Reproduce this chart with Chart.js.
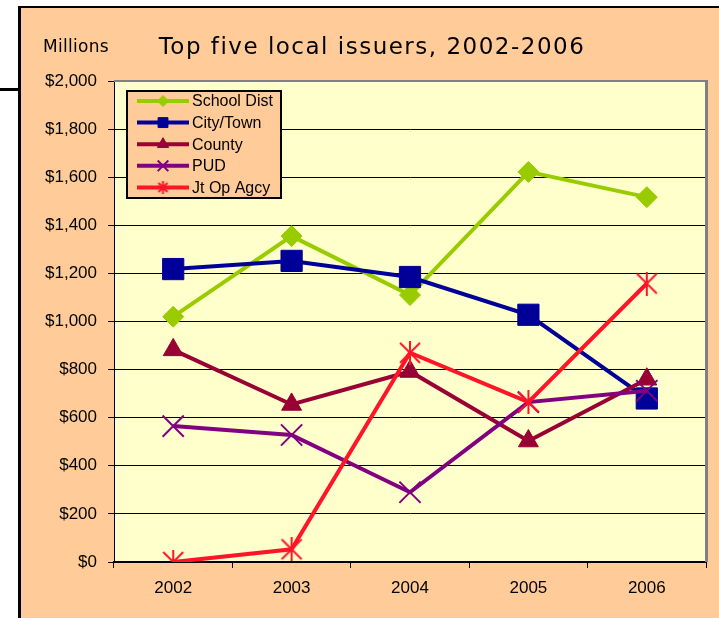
<!DOCTYPE html>
<html lang="en">
<head>
<meta charset="UTF-8">
<title>Top five local issuers, 2002-2006</title>
<script src="https://cdn.jsdelivr.net/npm/chart.js"></script>
<style>
  html, body { margin: 0; padding: 0; background: #fff; }
  #wrap { width: 719px; height: 618px; }
</style>
</head>
<body>
<div id="wrap"><canvas id="issuerChart" width="719" height="618"></canvas></div>
<script>
// Issuance in $ millions by year
var years = ['2002', '2003', '2004', '2005', '2006'];
var schoolDist = [1020, 1355, 1110, 1622, 1517];
var cityTown   = [1218, 1252, 1185, 1028, 680];
var county     = [882, 655, 792, 503, 760];
var pud        = [565, 528, 290, 665, 712];
var jtOpAgcy   = [0, 53, 870, 665, 1158];
var seriesNames = ['School Dist', 'City/Town', 'County', 'PUD', 'Jt Op Agcy'];
var yMin = 0, yMax = 2000, yStep = 200;

var PEACH = '#FFCC99';
var PLOT_BG = '#FFFFCC';

// asterisk marker: an X with a vertical stroke through it
function asterisk(size, color, lw) {
    var c = document.createElement('canvas');
    c.width = size; c.height = size;
    var g = c.getContext('2d');
    var h = size / 2, a = h - lw;
    g.strokeStyle = color;
    g.lineWidth = lw;
    g.beginPath();
    g.moveTo(h - a, h - a); g.lineTo(h + a, h + a);
    g.moveTo(h + a, h - a); g.lineTo(h - a, h + a);
    g.moveTo(h, 0); g.lineTo(h, size);
    g.stroke();
    return c;
}

function series(label, data, color, style, radius, bw, order) {
    return {
        label: label,
        data: data,
        borderColor: color,
        backgroundColor: color,
        borderWidth: 4,
        tension: 0,
        pointStyle: style,
        pointRadius: radius,
        pointBackgroundColor: color,
        pointBorderColor: color,
        pointBorderWidth: bw,
        order: order
    };
}

var datasets = [
    series(seriesNames[0], schoolDist, '#99CC00', 'rectRot', 10.5, 1, 4),
    series(seriesNames[1], cityTown, '#000099', 'rect', 15, 1, 3),
    series(seriesNames[2], county, '#990033', 'triangle', 11.5, 1, 2),
    series(seriesNames[3], pud, '#800080', 'crossRot', 15, 2, 1),
    series(seriesNames[4], jtOpAgcy, '#FF1428', asterisk(24, '#FF1428', 2), 12, 2, 0)
];
var legendMarks = [
    { style: 'rectRot', r: 5.5 },
    { style: 'rect', r: 7 },
    { style: 'triangle', r: 6.5 },
    { style: 'crossRot', r: 7.5 },
    { style: asterisk(13, '#FF1428', 2), r: 6 }
];

var frame = {
    id: 'frame',
    beforeDraw: function (chart) {
        var ctx = chart.ctx, a = chart.chartArea;
        ctx.save();
        ctx.fillStyle = '#fff';
        ctx.fillRect(0, 0, chart.width, chart.height);
        // stray rule left of the panel
        ctx.fillStyle = '#000';
        ctx.fillRect(0, 88, 20, 3);
        // panel
        ctx.fillStyle = '#000';
        ctx.fillRect(18, 6, chart.width - 18, chart.height - 6);
        ctx.fillStyle = PEACH;
        ctx.fillRect(21, 8, chart.width - 21, chart.height - 8);
        ctx.fillStyle = PLOT_BG;
        ctx.fillRect(a.left, a.top, a.right - a.left, a.bottom - a.top);
        ctx.restore();
    },
    afterDraw: function (chart) {
        var ctx = chart.ctx, a = chart.chartArea;
        ctx.save();
        // grey plot border on top and right
        ctx.strokeStyle = '#808080';
        ctx.lineWidth = 2;
        ctx.beginPath();
        ctx.moveTo(a.left, a.top);
        ctx.lineTo(a.right, a.top);
        ctx.stroke();
        ctx.lineWidth = 3;
        ctx.beginPath();
        ctx.moveTo(a.right + 0.5, a.top - 1);
        ctx.lineTo(a.right + 0.5, a.bottom);
        ctx.stroke();

        ctx.fillStyle = '#000';
        ctx.textAlign = 'center';
        ctx.textBaseline = 'alphabetic';
        ctx.font = '23px "DejaVu Sans"';
        ctx.letterSpacing = '1.5px';
        ctx.fillText('Top five local issuers, 2002-2006', 372, 54);
        ctx.textAlign = 'left';
        ctx.font = '17px "DejaVu Sans"';
        ctx.letterSpacing = '0.3px';
        ctx.fillText('Millions', 43, 52);
        ctx.letterSpacing = '0px';

        // legend box
        var lx = 127, ly = 91, lw = 154, lh = 107;
        ctx.fillStyle = PEACH;
        ctx.fillRect(lx, ly, lw, lh);
        ctx.strokeStyle = '#000';
        ctx.lineWidth = 2;
        ctx.strokeRect(lx, ly, lw, lh);
        ctx.font = '16px "Liberation Sans", Arial, sans-serif';
        ctx.textBaseline = 'middle';
        chart.data.datasets.forEach(function (ds, i) {
            var y = 101 + i * 21.6;
            ctx.strokeStyle = ds.borderColor;
            ctx.lineWidth = 4;
            ctx.beginPath();
            ctx.moveTo(137, y);
            ctx.lineTo(189, y);
            ctx.stroke();
            ctx.fillStyle = ds.borderColor;
            ctx.strokeStyle = ds.borderColor;
            ctx.lineWidth = ds.pointBorderWidth;
            Chart.helpers.drawPoint(ctx, {
                pointStyle: legendMarks[i].style,
                radius: legendMarks[i].r,
                rotation: 0,
                borderWidth: ds.pointBorderWidth
            }, 163, y);
            ctx.fillStyle = '#000';
            ctx.fillText(ds.label, 192, y + 1);
        });
        ctx.restore();
    }
};

var tickFont = { family: '"Liberation Sans", Arial, sans-serif', size: 17 };

new Chart(document.getElementById('issuerChart'), {
    type: 'line',
    data: { labels: years, datasets: datasets },
    options: {
        responsive: false,
        animation: false,
        layout: { autoPadding: false, padding: { left: 0, top: 81, right: 13, bottom: 0 } },
        plugins: {
            legend: { display: false },
            tooltip: { enabled: false }
        },
        scales: {
            x: {
                offset: true,
                grid: { offset: true, drawOnChartArea: false, color: '#000', tickLength: 6, lineWidth: 1 },
                border: { color: '#000', width: 2 },
                ticks: { color: '#000', font: tickFont, padding: 10, maxRotation: 0 },
                afterFit: function (s) { s.height = 56; }
            },
            y: {
                min: yMin,
                max: yMax,
                grid: { color: '#000', tickLength: 6, lineWidth: 1 },
                border: { color: '#000', width: 1 },
                ticks: {
                    stepSize: yStep,
                    color: '#000',
                    font: tickFont,
                    padding: 11,
                    callback: function (v) { return '$' + v.toLocaleString('en-US'); }
                },
                afterFit: function (s) { s.width = 114; }
            }
        }
    },
    plugins: [frame]
});
</script>
</body>
</html>
